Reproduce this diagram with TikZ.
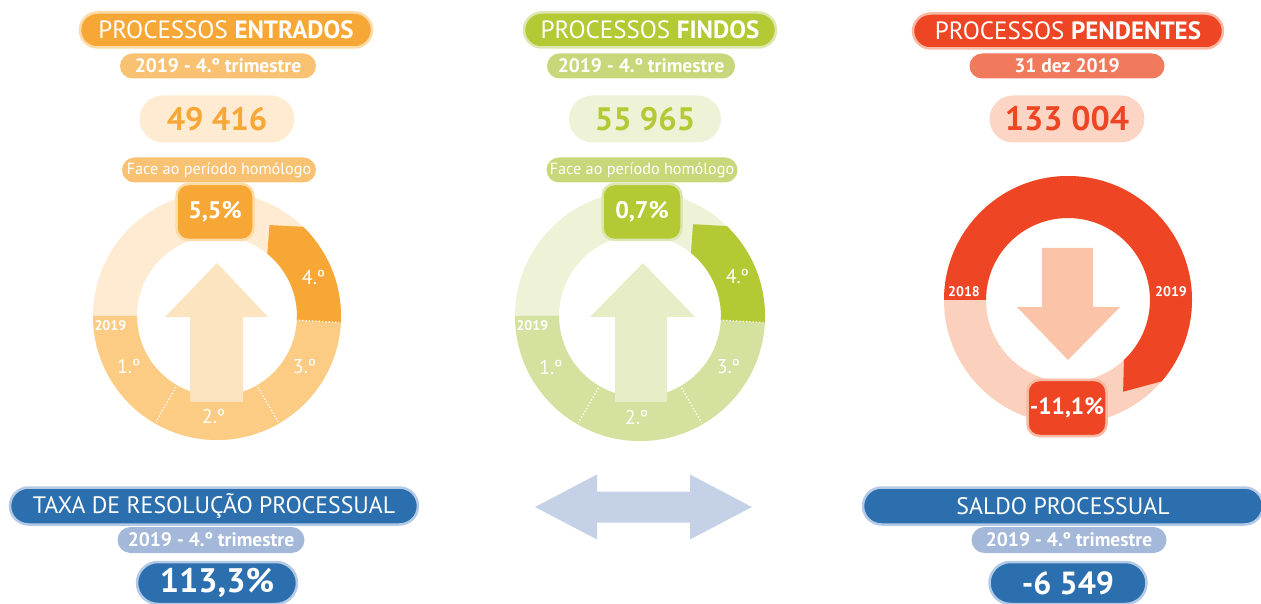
\documentclass[tikz,border=0pt]{standalone}
\usepackage{fontspec}
\setmainfont{PT Sans}
\usetikzlibrary{positioning}

% colours
\definecolor{orDark}{HTML}{F7A735}
\definecolor{orMid}{HTML}{F9C272}
\definecolor{orRing}{HTML}{FCCB84}
\definecolor{orLight}{HTML}{FEEBD1}
\definecolor{orLine}{HTML}{FDDBA6}
\definecolor{orArrow}{HTML}{FDE4C1}
\definecolor{grDark}{HTML}{B5C934}
\definecolor{grMid}{HTML}{C8D77A}
\definecolor{grRing}{HTML}{D5E19E}
\definecolor{grLight}{HTML}{EEF2D7}
\definecolor{grLine}{HTML}{DDE6B0}
\definecolor{grArrow}{HTML}{E7EDC6}
\definecolor{rdDark}{HTML}{EE4524}
\definecolor{rdMid}{HTML}{F27A5C}
\definecolor{rdRing}{HTML}{FBD0BD}
\definecolor{rdLight}{HTML}{FCD5C4}
\definecolor{rdLine}{HTML}{F9B9A3}
\definecolor{rdArrow}{HTML}{FBC4A8}
\definecolor{blDark}{HTML}{2B6FAF}
\definecolor{blMid}{HTML}{A4B8DA}
\definecolor{blLine}{HTML}{B3C9E5}
\definecolor{blArrow}{HTML}{C5D1E6}

\tikzset{
  pill/.style={rectangle, inner sep=0pt, text=white, align=center},
  headbox/.style={pill, fill=#1Dark, draw=#1Line, line width=2.5pt, minimum height=35pt,
    rounded corners=17.5pt, font=\fontsize{25}{27}\selectfont},
  datebox/.style={pill, fill=#1Mid, minimum height=25pt, rounded corners=12.5pt,
    font=\bfseries\fontsize{19.5}{21}\selectfont},
  valbox/.style={pill, fill=#1Light, minimum height=47pt, rounded corners=23.5pt,
    text=#1Dark, font=\bfseries\fontsize{32.5}{34}\selectfont},
  facebox/.style={pill, fill=#1Mid, minimum height=25pt, rounded corners=12.5pt,
    font=\fontsize{16.2}{18}\selectfont},
  pctbox/.style={pill, fill=#1Dark, draw=#1Line, line width=2.5pt, rounded corners=12pt,
    minimum width=77pt, minimum height=56pt, font=\bfseries\fontsize{24}{26}\selectfont},
  ringlbl/.style={text=white, font=\fontsize{20}{22}\selectfont},
  yearlbl/.style={text=white, font=\bfseries\fontsize{14}{15}\selectfont},
  sep/.style={white, dotted, line width=1.3pt},
}

\begin{document}
\begin{tikzpicture}[x=1pt, y=1pt]
  \useasboundingbox (0,0) rectangle (1261,603);

  % processos entrados
  \node[headbox=or, minimum width=292pt] (entTitle) at (226,573) {PROCESSOS \textbf{ENTRADOS}};
  \node[datebox=or, minimum width=196pt] (entDate) at (218,537) {2019 - 4.º trimestre};
  \node[valbox=or, minimum width=155pt] (entVal) at (217,484) {49 416};
  \begin{scope}[shift={(217,287)}]
    \fill[orLight, even odd rule] (0,0) circle[radius=124] (0,0) circle[radius=80];
    \fill[orRing] (180:124) arc[start angle=180, end angle=360, radius=124]
      -- (0:80) arc[start angle=360, end angle=180, radius=80] -- cycle;
    \fill[orDark] (-3:124) arc[start angle=-3, end angle=46, radius=124]
      -- (60:105) -- (51:80) arc[start angle=51, end angle=-3, radius=80] -- cycle;
    \foreach \a in {240,300,357}
      \draw[sep] (\a:82) -- (\a:122);
    \fill[orArrow] (0,53) -- (51,-1) -- (26,-1) -- (26,-86) -- (-27,-86) -- (-27,-1) -- (-52,-1) -- cycle;
    \node[yearlbl] (entYear) at (185:107) {2019};
    \node[ringlbl] (entQ1) at (210:102) {1.º};
    \node[ringlbl] (entQ2) at (268:101) {2.º};
    \node[ringlbl] (entQ3) at (330:101) {3.º};
    \node[ringlbl] (entQ4) at (22:104) {4.º};
  \end{scope}
  \node[facebox=or, minimum width=194pt] (entFace) at (219,433) {Face ao período homólogo};
  \node[pctbox=or] (entPct) at (215,391) {5,5\%};

  % processos findos
  \node[headbox=gr, minimum width=252pt] (finTitle) at (650,573) {PROCESSOS \textbf{FINDOS}};
  \node[datebox=gr, minimum width=188pt] (finDate) at (641,537) {2019 - 4.º trimestre};
  \node[valbox=gr, minimum width=152pt] (finVal) at (645,484) {55 965};
  \begin{scope}[shift={(640,287)}]
    \fill[grLight, even odd rule] (0,0) circle[radius=125] (0,0) circle[radius=81];
    \fill[grRing] (180:125) arc[start angle=180, end angle=360, radius=125]
      -- (0:81) arc[start angle=360, end angle=180, radius=81] -- cycle;
    \fill[grDark] (-3:125) arc[start angle=-3, end angle=46, radius=125]
      -- (60:106) -- (51:81) arc[start angle=51, end angle=-3, radius=81] -- cycle;
    \foreach \a in {240,300,357}
      \draw[sep] (\a:83) -- (\a:123);
    \fill[grArrow] (3,53) -- (55,-1) -- (27,-1) -- (27,-86) -- (-25,-86) -- (-25,-1) -- (-50,-1) -- cycle;
    \node[yearlbl] (finYear) at (185:108) {2019};
    \node[ringlbl] (finQ1) at (210:103) {1.º};
    \node[ringlbl] (finQ2) at (268:102) {2.º};
    \node[ringlbl] (finQ3) at (330:102) {3.º};
    \node[ringlbl] (finQ4) at (22:105) {4.º};
  \end{scope}
  \node[facebox=gr, minimum width=191pt] (finFace) at (642,433) {Face ao período homólogo};
  \node[pctbox=gr, minimum width=79pt] (finPct) at (642,391) {0,7\%};

  % processos pendentes
  \node[headbox=rd, minimum width=310pt] (penTitle) at (1068,572) {PROCESSOS \textbf{PENDENTES}};
  \node[datebox=rd, minimum width=195pt] (penDate) at (1067,537) {31 dez 2019};
  \node[valbox=rd, minimum width=155pt, font=\bfseries\fontsize{34}{36}\selectfont] (penVal) at (1067,484) {133 004};
  \begin{scope}[shift={(1068,303)}]
    \fill[rdRing, even odd rule] (0,0) circle[radius=124] (0,0) circle[radius=82];
    \fill[rdDark] (180:124) arc[start angle=180, end angle=-41, radius=124]
      -- (-59:107) -- (-47:82) arc[start angle=-47, end angle=180, radius=82] -- cycle;
    \fill[rdArrow] (-26,52) -- (25,52) -- (25,-7) -- (52,-7) -- (0,-60) -- (-51,-7) -- (-26,-7) -- cycle;
    \node[yearlbl] (penOld) at (-104,8) {2018};
    \node[yearlbl] (penNew) at (103,8) {2019};
  \end{scope}
  \node[pctbox=rd, minimum width=79pt, font=\bfseries\fontsize{23.5}{25}\selectfont] (penPct) at (1067,195) {-11,1\%};

  % taxa de resolucao
  \node[headbox=bl, minimum width=408pt, minimum height=37pt, rounded corners=18.5pt,
    font=\fontsize{23.8}{25}\selectfont] (taxTitle) at (214,97) {TAXA DE RESOLUÇÃO PROCESSUAL};
  \node[datebox=bl, minimum width=187pt, minimum height=26pt, rounded corners=13pt] (taxDate) at (211,63) {2019 - 4.º trimestre};
  \node[headbox=bl, minimum width=160pt, minimum height=42pt, rounded corners=21pt,
    font=\bfseries\fontsize{34}{36}\selectfont] (taxVal) at (217,20) {113,3\%};

  % saldo processual
  \node[headbox=bl, minimum width=400pt, minimum height=37pt, rounded corners=18.5pt,
    font=\fontsize{23.8}{25}\selectfont] (salTitle) at (1063,97) {SALDO PROCESSUAL};
  \node[datebox=bl, minimum width=195pt, minimum height=26pt, rounded corners=13pt] (salDate) at (1069,63) {2019 - 4.º trimestre};
  \node[headbox=bl, minimum width=157pt, minimum height=42pt, rounded corners=21pt,
    font=\bfseries\fontsize{32}{34}\selectfont] (salVal) at (1068,20) {-6 549};

  % double arrow
  \fill[blArrow] (535,96) -- (597,128.5) -- (597,111.5) -- (690,111.5) -- (690,128.5) -- (752,96)
    -- (690,63.5) -- (690,80.5) -- (597,80.5) -- (597,63.5) -- cycle;
\end{tikzpicture}
\end{document}
